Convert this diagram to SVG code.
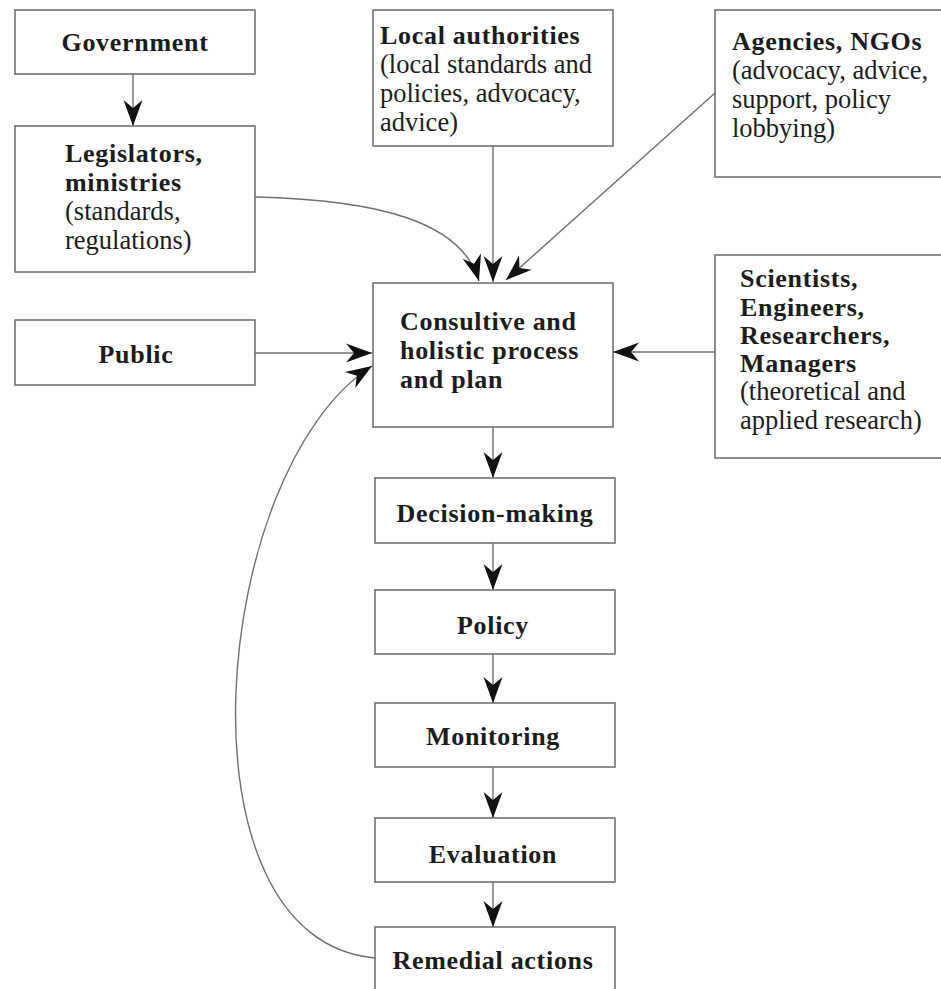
<svg xmlns="http://www.w3.org/2000/svg" width="941" height="989" viewBox="0 0 941 989">
<style>
  .box { fill: #ffffff; stroke: #6a6a6a; stroke-width: 1.5; }
  .b { font-family: "Liberation Serif", "Times New Roman", serif; font-weight: bold; font-size: 26px; letter-spacing: 0.7px; fill: #1c1c1c; }
  .r { font-family: "Liberation Serif", "Times New Roman", serif; font-size: 26.5px; fill: #1c1c1c; }
  .c { text-anchor: middle; }
  .edge { fill: none; stroke: #707070; stroke-width: 1.4; marker-end: url(#arrow); }
</style>
<defs>
  <marker id="arrow" markerUnits="userSpaceOnUse" markerWidth="32" markerHeight="24" viewBox="-28 -12 32 24" refX="0" refY="0" orient="auto">
    <path d="M0,0 L-26,-9.5 L-18,0 L-26,9.5 Z" fill="#111111"/>
  </marker>
</defs>
<rect width="941" height="989" fill="#ffffff"/>

<g id="government">
  <rect class="box" x="15" y="10" width="240" height="64"/>
  <text class="b c" x="135" y="51">Government</text>
</g>
<g id="legislators">
  <rect class="box" x="15" y="126" width="240" height="146"/>
  <text class="b" x="65" y="162">Legislators,</text>
  <text class="b" x="65" y="191">ministries</text>
  <text class="r" x="65" y="220">(standards,</text>
  <text class="r" x="65" y="249">regulations)</text>
</g>
<g id="local-authorities">
  <rect class="box" x="373" y="10" width="240" height="136"/>
  <text class="b" x="380" y="44">Local authorities</text>
  <text class="r" x="380" y="73">(local standards and</text>
  <text class="r" x="380" y="102">policies, advocacy,</text>
  <text class="r" x="380" y="131">advice)</text>
</g>
<g id="agencies">
  <rect class="box" x="715" y="10" width="240" height="167"/>
  <text class="b" x="732" y="50">Agencies, NGOs</text>
  <text class="r" x="732" y="79">(advocacy, advice,</text>
  <text class="r" x="732" y="108">support, policy</text>
  <text class="r" x="732" y="137">lobbying)</text>
</g>
<g id="public">
  <rect class="box" x="15" y="320" width="240" height="65"/>
  <text class="b c" x="136" y="363">Public</text>
</g>
<g id="consultive">
  <rect class="box" x="373" y="283" width="240" height="144"/>
  <text class="b" x="400" y="330">Consultive and</text>
  <text class="b" x="400" y="359">holistic process</text>
  <text class="b" x="400" y="388">and plan</text>
</g>
<g id="scientists">
  <rect class="box" x="715" y="255" width="240" height="203"/>
  <text class="b" x="740" y="287">Scientists,</text>
  <text class="b" x="740" y="316">Engineers,</text>
  <text class="b" x="740" y="344">Researchers,</text>
  <text class="b" x="740" y="372">Managers</text>
  <text class="r" x="740" y="400">(theoretical and</text>
  <text class="r" x="740" y="429">applied research)</text>
</g>
<g id="decision-making">
  <rect class="box" x="375" y="478" width="240" height="65"/>
  <text class="b c" x="495" y="522">Decision-making</text>
</g>
<g id="policy">
  <rect class="box" x="375" y="590" width="240" height="64"/>
  <text class="b c" x="493" y="634">Policy</text>
</g>
<g id="monitoring">
  <rect class="box" x="375" y="703" width="240" height="64"/>
  <text class="b c" x="493" y="745">Monitoring</text>
</g>
<g id="evaluation">
  <rect class="box" x="375" y="818" width="240" height="64"/>
  <text class="b c" x="493" y="863">Evaluation</text>
</g>
<g id="remedial-actions">
  <rect class="box" x="375" y="927" width="240" height="80"/>
  <text class="b c" x="493" y="969">Remedial actions</text>
</g>

<g id="connectors">
  <path class="edge" d="M133,74 L133,126"/>
  <path class="edge" d="M255,197 C380,200 462,222 479,281"/>
  <path class="edge" d="M493,146 L493,282"/>
  <path class="edge" d="M715,93 L506,280"/>
  <path class="edge" d="M255,353 L372,353"/>
  <path class="edge" d="M715,352 L613,352"/>
  <path class="edge" d="M375,958 C170,940 210,470 372,366"/>
  <path class="edge" d="M493,427 L493,478"/>
  <path class="edge" d="M493,543 L493,590"/>
  <path class="edge" d="M493,654 L493,703"/>
  <path class="edge" d="M493,767 L493,818"/>
  <path class="edge" d="M493,882 L493,927"/>
</g>
</svg>
